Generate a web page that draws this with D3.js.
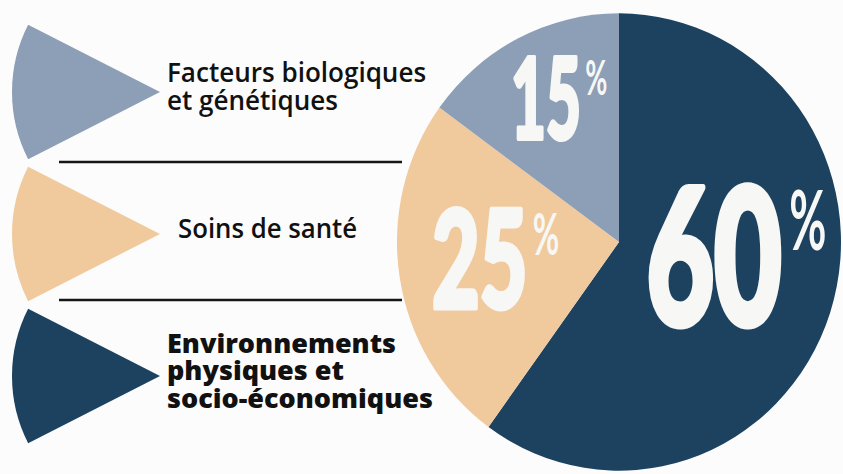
<!DOCTYPE html>
<html>
<head>
<meta charset="utf-8">
<script src="https://cdn.jsdelivr.net/npm/d3@7"></script>
<style>
  html, body { margin: 0; padding: 0; background: #fcfcfc; }
  svg { display: block; }
</style>
</head>
<body>
<div id="chart"></div>
<script>
// shares of health determinants (pie goes clockwise from 12 o'clock)
var categories = ["Environnements physiques et socio-économiques", "Soins de santé", "Facteurs biologiques et génétiques"];
var shares = [60, 25, 15];
var colors = ["#1c4260", "#f0ca9c", "#8d9fb6"];

// legend, top to bottom
var legendOrder = [2, 1, 0];
var legendLines = [
    ["Facteurs biologiques", "et génétiques"],
    ["Soins de santé"],
    ["Environnements", "physiques et", "socio-économiques"]
];
var legendWeights = [600, 600, 800];

var width = 843, height = 474;

var svg = d3.select("#chart")
    .append("svg")
    .attr("width", width)
    .attr("height", height);

var data = shares.map((v, i) => ({name: categories[i], value: v, color: colors[i]}));

// ---- pie ----
var cx = 619, cy = 242, R = 222;

var pie = d3.pie()
    .sort(null)
    .value(d => d.value);

var arc = d3.arc()
    .innerRadius(0)
    .outerRadius(R);

var arcs = pie(data);

svg.append("g")
    .attr("transform", "translate(" + cx + "," + cy + ") scale(1,1.03)")
    .selectAll("path")
    .data(arcs)
    .join("path")
    .attr("d", arc)
    .attr("fill", d => d.data.color);

// ---- big percent labels ----
var labelRadius = [100, 141, 161];
var labelNudge = [-17, -5, 0];
var digitH = [143, 102, 85];
var digitW = [139, 98, 72];
var white = "#f7f7f5";

arcs.forEach(function(a, i) {
    var c = d3.arc().innerRadius(labelRadius[i]).outerRadius(labelRadius[i]).centroid(a);
    var mx = cx + c[0], my = cy + c[1] + labelNudge[i];
    var h = digitH[i], w = digitW[i];
    var left = mx - w / 2, base = my + h / 2;
    var sw = h * 0.05;   // outline to fatten the glyphs

    var t = svg.append("text")
        .attr("x", 0).attr("y", 0)
        .style("font-family", "Lato")
        .style("font-weight", 900)
        .style("font-size", ((h - sw) / 0.7165) + "px")
        .attr("fill", white)
        .attr("stroke", white)
        .attr("stroke-width", sw)
        .attr("stroke-linejoin", "round")
        .text(a.data.value);
    var L = t.node().getComputedTextLength();
    var k = (w - sw * 0.5) / L;
    t.attr("transform", "translate(" + (left + sw * 0.25) + "," + (base - sw / 2) + ") scale(" + k + ",1)");

    var ph = h * 0.41, pw = h * 0.26;
    var p = svg.append("text")
        .attr("x", 0).attr("y", 0)
        .style("font-family", "Lato")
        .style("font-weight", 700)
        .style("font-size", (ph / 0.72) + "px")
        .attr("fill", white)
        .text("%");
    var pl = p.node().getComputedTextLength();
    p.attr("transform", "translate(" + (left + w + h * 0.04) + "," + (base - h + h * 0.05 + ph) + ") scale(" + (pw / pl) + ",1)");
});

// ---- legend wedges ----
var y = d3.scalePoint()
    .domain(legendOrder)
    .range([92, 376]);

var tipX = 160;
var wedge = d3.arc()
    .innerRadius(0)
    .outerRadius(148)
    .startAngle(-Math.PI / 2 - 27 * Math.PI / 180)
    .endAngle(-Math.PI / 2 + 27 * Math.PI / 180);

svg.append("g")
    .selectAll("path")
    .data(legendOrder)
    .join("path")
    .attr("transform", d => "translate(" + tipX + "," + y(d) + ")")
    .attr("d", wedge())
    .attr("fill", d => colors[d]);

// separators
var sepX = [59, 402];
svg.append("g")
    .selectAll("line")
    .data([162, 300])
    .join("line")
    .attr("x1", sepX[0]).attr("x2", sepX[1])
    .attr("y1", d => d).attr("y2", d => d)
    .attr("stroke", "#161616")
    .attr("stroke-width", 2.5);

// legend text
var textX = [167, 178, 167];
var textScale = [0.965, 0.955, 1.0];
var pitch = 27.5;

legendOrder.forEach(function(k, i) {
    var lines = legendLines[i];
    var first = y(k) + 4 - (lines.length - 1) * pitch / 2;
    var t = svg.append("text")
        .attr("transform", "translate(" + textX[i] + "," + first + ") scale(" + textScale[i] + ",1)")
        .style("font-family", "Open Sans")
        .style("font-weight", legendWeights[i])
        .style("font-size", "27px")
        .attr("fill", "#111");
    t.selectAll("tspan")
        .data(lines)
        .join("tspan")
        .attr("x", 0)
        .attr("y", (d, j) => j * pitch)
        .text(d => d);
});
</script>
</body>
</html>
